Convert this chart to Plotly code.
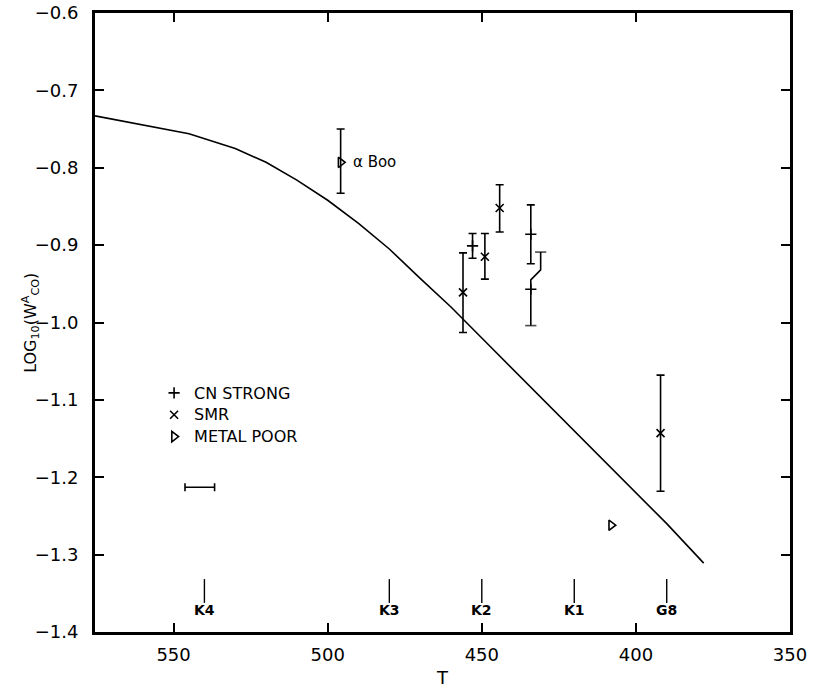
import plotly.graph_objects as go

# Model curve: log10 of the CO equivalent width against temperature index T
curve_T = [575.5, 560, 545, 530, 520, 510, 500, 490, 480, 470, 460, 450,
           440, 430, 420, 410, 400, 390, 378]
curve_logW = [-0.733, -0.745, -0.756, -0.775, -0.793, -0.816, -0.842, -0.872,
              -0.905, -0.943, -0.980, -1.020, -1.060, -1.100, -1.140, -1.180,
              -1.219, -1.260, -1.311]

# CN-strong stars
cn_T = [453.0, 434.1]
cn_logW = [-0.901, -0.886]
cn_err = [0.016, 0.038]

# CN-strong star whose error bar is drawn displaced to the right
cn2_T = [434.1]
cn2_logW = [-0.957]
cn2_bar_T = [434.1, 434.1, 430.9, 430.9]
cn2_bar_logW = [-1.004, -0.945, -0.932, -0.909]

# Super-metal-rich stars
smr_T = [456.1, 449.0, 444.2, 392.0]
smr_logW = [-0.961, -0.915, -0.852, -1.143]
smr_err_plus = [0.051, 0.030, 0.030, 0.075]
smr_err_minus = [0.052, 0.029, 0.031, 0.075]

# Metal-poor stars
mp_T = [495.8, 408.0]
mp_logW = [-0.793, -1.262]
mp_err_plus = [0.043, 0.0]
mp_err_minus = [0.040, 0.0]
mp_show_err = [True, False]

# Typical error in T
terr_T = [541.5]
terr_logW = [-1.213]
terr_dT = [4.8]

# Spectral type scale along T
spt_T = [540, 480, 450, 420, 390]
spt_labels = ["K4", "K3", "K2", "K1", "G8"]
SPT_TICK_Y = -1.347
SPT_LABEL_Y = -1.372

x_ticks = [550, 500, 450, 400, 350]
y_ticks = [-0.6, -0.7, -0.8, -0.9, -1.0, -1.1, -1.2, -1.3, -1.4]

FONT = "DejaVu Sans"
INK = "black"


def key_name(text):
    # legend entry text, slightly larger than the legend row spacing font
    return f'<span style="font-size:16px">{text}</span>'


fig = go.Figure()

fig.add_trace(go.Scatter(x=curve_T, y=curve_logW, mode="lines",
                         line=dict(color=INK, width=1.6),
                         showlegend=False, hoverinfo="skip"))

fig.add_trace(go.Scatter(
    x=cn_T, y=cn_logW, mode="markers", name=key_name("CN STRONG"),
    marker=dict(symbol="cross-thin", size=8, color=INK,
                line=dict(color=INK, width=1.6)),
    error_y=dict(type="data", array=cn_err, color=INK, thickness=1.6, width=4)))

fig.add_trace(go.Scatter(
    x=cn2_bar_T, y=cn2_bar_logW, mode="lines+markers",
    line=dict(color=INK, width=1.6),
    marker=dict(symbol="line-ew", size=[8, 0, 0, 8], color=INK,
                line=dict(color=INK, width=1.6)),
    showlegend=False, hoverinfo="skip"))

fig.add_trace(go.Scatter(
    x=cn2_T, y=cn2_logW, mode="markers", showlegend=False,
    marker=dict(symbol="cross-thin", size=8, color=INK,
                line=dict(color=INK, width=1.6))))

fig.add_trace(go.Scatter(
    x=smr_T, y=smr_logW, mode="markers", name=key_name("SMR"),
    marker=dict(symbol="x-thin", size=8, color=INK,
                line=dict(color=INK, width=1.6)),
    error_y=dict(type="data", array=smr_err_plus, arrayminus=smr_err_minus,
                 symmetric=False, color=INK, thickness=1.6, width=4)))

# metal-poor: first star with error bar, second without
fig.add_trace(go.Scatter(
    x=[t for t, s in zip(mp_T, mp_show_err) if s],
    y=[v for v, s in zip(mp_logW, mp_show_err) if s],
    mode="markers", name=key_name("METAL POOR"),
    marker=dict(symbol="triangle-right-open", size=9, color=INK,
                line=dict(color=INK, width=1.6)),
    error_y=dict(type="data",
                 array=[p for p, s in zip(mp_err_plus, mp_show_err) if s],
                 arrayminus=[m for m, s in zip(mp_err_minus, mp_show_err) if s],
                 symmetric=False, color=INK, thickness=1.6, width=4)))
fig.add_trace(go.Scatter(
    x=[t for t, s in zip(mp_T, mp_show_err) if not s],
    y=[v for v, s in zip(mp_logW, mp_show_err) if not s],
    mode="markers", showlegend=False,
    marker=dict(symbol="triangle-right-open", size=9, color=INK,
                line=dict(color=INK, width=1.6))))

fig.add_trace(go.Scatter(
    x=terr_T, y=terr_logW, mode="markers", showlegend=False,
    marker=dict(size=1, color="rgba(0,0,0,0)"),
    error_x=dict(type="data", array=terr_dT, color=INK, thickness=1.6, width=4)))

# spectral type ticks and labels
fig.add_trace(go.Scatter(
    x=spt_T, y=[SPT_TICK_Y] * len(spt_T), mode="markers", showlegend=False,
    marker=dict(symbol="line-ns", size=17, color=INK,
                line=dict(color=INK, width=1.4)), hoverinfo="skip"))
for t, lab in zip(spt_T, spt_labels):
    fig.add_annotation(x=t, y=SPT_LABEL_Y, xref="x", yref="y", text=f"<b>{lab}</b>",
                       showarrow=False, font=dict(family=FONT, size=14, color=INK))

fig.add_annotation(x=mp_T[0], y=mp_logW[0], xref="x", yref="y",
                   text="α Boo", showarrow=False, xanchor="left", xshift=10,
                   font=dict(family=FONT, size=15, color=INK))

fig.add_annotation(x=-0.093, y=-1.0, xref="paper", yref="y", xanchor="center",
                   text="LOG<sub>10</sub>(W<sup>A</sup><sub>CO</sub>)",
                   textangle=-90, showarrow=False,
                   font=dict(family=FONT, size=16, color=INK))

axis_common = dict(showline=True, linecolor=INK, linewidth=3, mirror="ticks",
                   ticks="inside", ticklen=9, tickwidth=1.5, tickcolor=INK,
                   showgrid=False, zeroline=False, automargin=False,
                   tickfont=dict(family=FONT, size=18, color=INK))

fig.update_xaxes(range=[575.5, 350], tickvals=x_ticks,
                 ticklabelstandoff=4,
                 title=dict(text="T", font=dict(family=FONT, size=18, color=INK),
                            standoff=8),
                 **axis_common)
fig.update_yaxes(range=[-1.4, -0.6], tickvals=y_ticks, tickformat=".1f",
                 ticklabelstandoff=10, **axis_common)

fig.update_layout(
    width=814, height=688,
    margin=dict(l=95, r=24, t=13, b=56, autoexpand=False),
    paper_bgcolor="white", plot_bgcolor="white",
    font=dict(family=FONT, color=INK),
    legend=dict(x=0.085, y=0.412, xanchor="left", yanchor="top",
                bgcolor="rgba(0,0,0,0)", borderwidth=0,
                font=dict(family=FONT, size=14.5, color=INK)),
)

fig.write_html("out.html")
